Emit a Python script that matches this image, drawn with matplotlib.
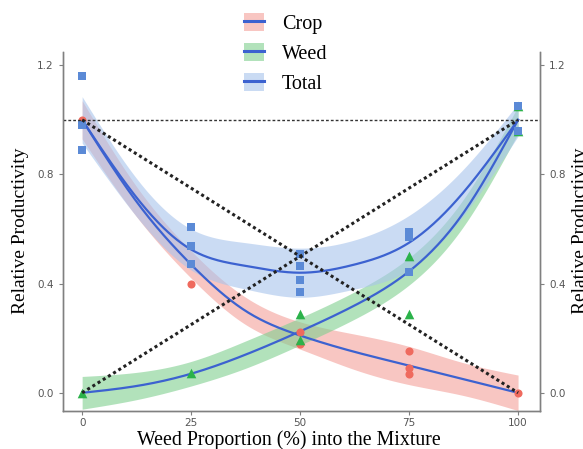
import numpy as np
import matplotlib.pyplot as plt
from matplotlib.patches import Patch
from matplotlib.lines import Line2D

# observed relative productivity
crop_x = [0, 25, 50, 50, 75, 75, 75, 100]
crop_y = [1.0, 0.40, 0.222, 0.18, 0.155, 0.09, 0.07, 0.0]

weed_x = [0, 25, 50, 50, 75, 75, 100, 100]
weed_y = [0.0, 0.071, 0.287, 0.195, 0.50, 0.287, 1.05, 0.96]

total_x = [0, 0, 0, 25, 25, 25, 50, 50, 50, 50, 75, 75, 75, 100, 100]
total_y = [1.16, 0.98, 0.89, 0.606, 0.538, 0.471, 0.508, 0.464, 0.412, 0.369,
           0.59, 0.572, 0.443, 1.05, 0.96]

# smoothed fits (loess) and their standard error bands
fit_x = [0, 12.5, 25, 37.5, 50, 62.5, 75, 87.5, 100]
crop_fit = [1.0, 0.70, 0.47, 0.30, 0.21, 0.15, 0.10, 0.05, 0.0]
crop_se = [0.07, 0.055, 0.05, 0.05, 0.05, 0.065, 0.07, 0.06, 0.065]
weed_fit = [0.0, 0.025, 0.07, 0.14, 0.225, 0.32, 0.445, 0.66, 1.0]
weed_se = [0.06, 0.05, 0.045, 0.05, 0.05, 0.05, 0.05, 0.05, 0.05]
total_fit = [1.0, 0.715, 0.525, 0.465, 0.44, 0.47, 0.55, 0.735, 1.0]
total_se = [0.085, 0.07, 0.075, 0.085, 0.09, 0.09, 0.1, 0.085, 0.06]

ticks_x = [0, 25, 50, 75, 100]
ticks_y = [0.0, 0.4, 0.8, 1.2]


def spline(xk, yk, xs):
    # natural cubic spline through the fitted values
    xk = np.asarray(xk, float)
    yk = np.asarray(yk, float)
    n = len(xk)
    h = np.diff(xk)
    A = np.zeros((n, n))
    r = np.zeros(n)
    A[0, 0] = A[-1, -1] = 1
    for i in range(1, n - 1):
        A[i, i - 1] = h[i - 1]
        A[i, i] = 2 * (h[i - 1] + h[i])
        A[i, i + 1] = h[i]
        r[i] = 3 * ((yk[i + 1] - yk[i]) / h[i] - (yk[i] - yk[i - 1]) / h[i - 1])
    c = np.linalg.solve(A, r)
    b = (yk[1:] - yk[:-1]) / h - h * (2 * c[:-1] + c[1:]) / 3
    d = (c[1:] - c[:-1]) / (3 * h)
    idx = np.clip(np.searchsorted(xk, xs) - 1, 0, n - 2)
    dx = xs - xk[idx]
    return yk[idx] + b[idx] * dx + c[idx] * dx ** 2 + d[idx] * dx ** 3


fig = plt.figure(figsize=(5.83, 4.49), dpi=100)
ax = fig.add_axes([0.108, 0.085, 0.818, 0.8])

line_col = '#3c62d0'
groups = [
    ('Crop', crop_fit, crop_se, '#f4a09a'),
    ('Weed', weed_fit, weed_se, '#7fcf8f'),
    ('Total', total_fit, total_se, '#a8c4ec'),
]

xs = np.linspace(0, 100, 300)
handles = []
for name, fit, se, fill in groups:
    yf = spline(fit_x, fit, xs)
    sf = spline(fit_x, se, xs)
    ax.fill_between(xs, yf - sf, yf + sf, color=fill, alpha=0.6, lw=0, zorder=1)
    ax.plot(xs, yf, color=line_col, lw=1.6, zorder=3)
    handles.append((Patch(facecolor=fill, alpha=0.6, edgecolor='none'),
                    Line2D([], [], color=line_col, lw=2.2)))

ax.scatter(crop_x, crop_y, marker='o', s=34, color='#ef6a5e', lw=0, zorder=4)
ax.scatter(weed_x, weed_y, marker='^', s=48, color='#2bb24a', lw=0, zorder=4)
ax.scatter(total_x, total_y, marker='s', s=28, color='#5b8ad6', lw=0, zorder=4)

# expected values under no interaction
ax.axhline(1.0, color='#333333', lw=1.0, ls=(0, (2, 1.5)), zorder=5)
ax.plot([0, 100], [1, 0], color='#222222', lw=2.2, ls=(0, (1, 1)), zorder=5)
ax.plot([0, 100], [0, 1], color='#222222', lw=2.2, ls=(0, (1, 1)), zorder=5)

ax.set_xlim(-4.4, 105)
ax.set_ylim(-0.066, 1.25)
ax.set_xticks(ticks_x)
ax.set_yticks(ticks_y)
ax.set_yticklabels([f'{v:.1f}' for v in ticks_y])

ax2 = ax.twinx()
ax2.set_ylim(ax.get_ylim())
ax2.set_yticks(ticks_y)
ax2.set_yticklabels([f'{v:.1f}' for v in ticks_y])

for a in (ax, ax2):
    a.spines['top'].set_visible(False)
    for s in ('left', 'right', 'bottom'):
        a.spines[s].set_color('#808080')
        a.spines[s].set_linewidth(1.0)
    a.tick_params(colors='#808080', labelcolor='#555555', labelsize=7.5,
                  length=3, width=0.8)
ax.tick_params(axis='x', pad=2)

serif = ['Liberation Serif', 'DejaVu Serif']
ax.set_xlabel('Weed Proportion (%) into the Mixture', family=serif,
              fontsize=14.3)
ax.xaxis.set_label_coords(0.474, -0.095, transform=ax.transAxes)
ax.xaxis.label.set_va('baseline')
ax.set_ylabel('Relative Productivity', family=serif, fontsize=14, labelpad=6)
ax2.set_ylabel('Relative Productivity', family=serif, fontsize=14, labelpad=5)

fig.legend(handles, [g[0] for g in groups], loc='upper center',
           bbox_to_anchor=(0.49, 1.012), frameon=False, ncol=1,
           prop={'family': serif, 'size': 14.5}, handlelength=1.0,
           handleheight=1.0, handletextpad=0.9, labelspacing=0.45)

fig.savefig('out.png', dpi=100)
